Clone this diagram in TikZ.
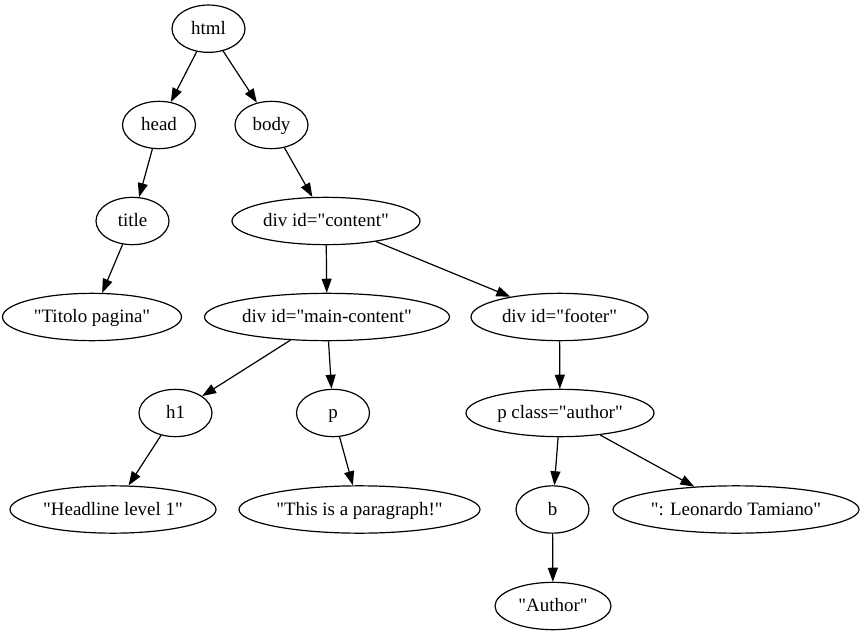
\documentclass[tikz,border=0pt]{standalone}
\usepackage{fontspec}
\setmainfont{Liberation Serif}[Ligatures=TeXOff]
\usetikzlibrary{shapes.geometric,arrows.meta}
\tikzset{
  nd/.style={ellipse, draw, line width=0.9pt, inner sep=0pt, minimum height=35.5pt,
    minimum width=54.75pt, font=\fontsize{14.2}{17}\selectfont, text height=10.5pt, text depth=2.1pt},
  edge/.style={line width=0.9pt, -{Triangle[length=10.5pt,width=7.5pt]}}
}
\begin{document}
\begin{tikzpicture}[x=0.75pt,y=-0.75pt]
\useasboundingbox (0,0) rectangle (861,635);
\node[nd] (html) at (208.5,28.7) {html};
\node[nd] (head) at (159,125) {head};
\node[nd] (body) at (271.5,125) {body};
\node[nd] (title) at (132.5,221) {title};
\node[nd,minimum width=141pt] (content) at (326,221) {div id="content"};
\node[nd,minimum width=134.25pt] (titolo) at (92,317) {"Titolo pagina"};
\node[nd,minimum width=183.75pt] (main) at (327,317) {div id="main-content"};
\node[nd,minimum width=132.75pt] (footer) at (559.5,317) {div id="footer"};
\node[nd] (h1) at (175.5,413) {h1};
\node[nd] (p) at (333,413) {p};
\node[nd,minimum width=141pt] (pauthor) at (560,413) {p class="author"};
\node[nd,minimum width=154.5pt] (headline) at (113,509.5) {"Headline level 1"};
\node[nd,minimum width=180.75pt] (para) at (359.5,509.5) {"This is a paragraph!"};
\node[nd] (b) at (552.5,509.5) {b};
\node[nd,minimum width=184.5pt] (leo) at (736,509.5) {": Leonardo Tamiano"};
\node[nd,minimum width=87pt] (auth) at (553,606) {"Author"};
\draw[edge] (html) -- (head);
\draw[edge] (html) -- (body);
\draw[edge] (head) -- (title);
\draw[edge] (title) -- (titolo);
\draw[edge] (body) -- (content);
\draw[edge] (content) -- (main);
\draw[edge] (content) -- (footer);
\draw[edge] (main) -- (h1);
\draw[edge] (main) -- (p);
\draw[edge] (h1) -- (headline);
\draw[edge] (p) -- (para);
\draw[edge] (footer) -- (pauthor);
\draw[edge] (pauthor) -- (b);
\draw[edge] (pauthor) -- (leo);
\draw[edge] (b) -- (auth);
\end{tikzpicture}
\end{document}
